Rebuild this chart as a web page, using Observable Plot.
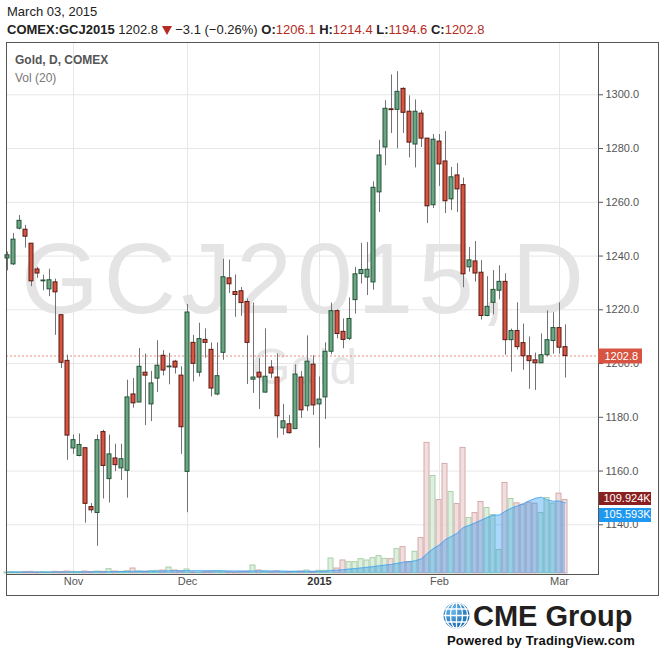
<!DOCTYPE html>
<html>
<head>
<meta charset="utf-8">
<script src="https://cdn.jsdelivr.net/npm/d3@7"></script>
<script src="https://cdn.jsdelivr.net/npm/@observablehq/plot@0.6"></script>
<style>
  html,body{margin:0;padding:0;background:#fff;}
  #wrap{position:relative;width:664px;height:652px;overflow:hidden;font-family:"Liberation Sans",Arial,Helvetica,sans-serif;}
  #wrap > svg{position:absolute;left:0;top:0;}
  .hdr{position:absolute;left:7px;font-size:13px;line-height:15px;color:#222;white-space:nowrap;}
  .red{color:#b52a21;}
  #box{position:absolute;left:6px;top:42px;width:651px;height:552px;border:1px solid #555;}
  .leg{position:absolute;left:15px;font-size:12px;line-height:15px;white-space:nowrap;}
</style>
</head>
<body>
<div id="wrap">
  <div id="box"></div>
</div>
<script>
// ---------- data ----------
const opens = [1239.1,1236.9,1250.2,1249.8,1244.6,1235.0,1230.6,1227.6,1230.2,1218.0,
1201.0,1168.4,1165.6,1168.5,1146.6,1144.4,1174.5,1157.0,1164.7,1161.0,
1160.1,1188.5,1185.5,1196.6,1184.8,1194.4,1202.9,1198.6,1200.7,1195.5,
1159.7,1207.7,1196.6,1208.8,1205.1,1188.5,1204.0,1231.7,1226.6,1226.9,
1222.9,1194.0,1196.6,1189.2,1198.5,1194.8,1175.9,1177.4,1175.6,1194.8,
1184.1,1199.6,1184.8,1187.4,1204.4,1219.5,1211.8,1209.2,1223.6,1233.3,
1232.0,1230.2,1263.7,1280.4,1294.6,1294.4,1302.2,1293.7,1281.5,1293.0,
1283.7,1258.9,1282.6,1275.2,1261.1,1270.0,1266.4,1235.8,1238.0,1233.8,
1217.7,1222.6,1227.1,1230.4,1208.7,1212.1,1207.6,1202.7,1201.2,1200.1,
1203.1,1208.4,1213.2,1206.1];
const highs = [1241.5,1248.4,1255.1,1251.4,1244.6,1235.8,1232.9,1235.1,1231.4,1218.0,
1203.1,1173.4,1173.8,1168.5,1147.9,1173.4,1175.2,1173.4,1170.0,1170.0,
1193.8,1194.4,1205.6,1203.5,1197.1,1208.5,1204.8,1203.8,1201.2,1198.8,
1222.0,1210.5,1215.0,1212.9,1207.7,1207.7,1238.8,1238.5,1233.0,1228.3,
1224.0,1222.5,1201.8,1212.9,1201.1,1203.6,1184.8,1180.7,1199.5,1197.0,
1210.3,1202.9,1195.0,1207.7,1222.5,1220.0,1216.6,1224.4,1235.8,1244.7,
1245.0,1267.6,1283.1,1297.8,1307.4,1308.6,1302.6,1299.6,1298.1,1294.1,
1283.7,1285.2,1285.2,1286.3,1273.0,1274.4,1269.0,1243.2,1245.4,1238.3,
1232.3,1234.6,1236.4,1233.4,1212.8,1222.6,1214.7,1209.9,1203.9,1211.0,
1219.6,1218.9,1222.6,1214.4];
const lows = [1234.5,1236.5,1249.7,1243.0,1228.6,1231.7,1227.1,1224.9,1210.5,1198.2,
1164.0,1166.2,1165.3,1140.6,1144.3,1132.0,1149.6,1148.1,1159.8,1156.5,
1149.9,1183.4,1185.5,1176.9,1178.4,1189.2,1195.4,1192.1,1196.1,1166.2,
1144.5,1193.2,1195.0,1202.0,1187.6,1188.0,1201.2,1226.1,1217.2,1217.6,
1192.2,1188.9,1182.9,1188.9,1194.4,1172.2,1173.3,1173.7,1175.6,1179.6,
1182.2,1180.7,1168.5,1179.2,1203.3,1209.2,1205.5,1208.5,1218.4,1229.6,
1225.3,1227.3,1256.2,1273.6,1285.6,1279.9,1285.6,1276.5,1272.8,1280.4,
1252.1,1257.7,1265.9,1255.8,1256.9,1256.2,1228.2,1234.0,1230.3,1216.2,
1217.4,1218.1,1223.7,1203.1,1196.8,1205.0,1197.5,1190.4,1190.0,1200.0,
1202.5,1203.5,1203.5,1194.6];
const closes = [1240.3,1246.1,1253.1,1247.2,1230.6,1233.5,1230.9,1231.0,1226.5,1200.3,
1173.2,1171.5,1169.7,1147.8,1145.4,1171.5,1161.9,1166.2,1162.2,1164.4,
1187.4,1185.2,1198.8,1195.5,1192.6,1199.2,1197.4,1198.9,1198.5,1176.3,
1219.0,1199.9,1209.1,1207.7,1190.7,1195.3,1232.1,1229.5,1225.5,1222.5,
1207.7,1194.8,1194.8,1195.1,1196.3,1180.4,1178.5,1174.1,1195.9,1182.6,
1200.7,1184.4,1186.6,1204.4,1219.5,1211.0,1208.8,1216.6,1233.2,1234.8,
1234.9,1265.4,1277.4,1294.8,1294.3,1301.1,1293.3,1282.2,1293.7,1283.7,
1258.5,1283.3,1274.1,1260.4,1269.3,1264.8,1233.2,1238.4,1233.5,1217.7,
1221.1,1227.4,1230.4,1208.7,1212.1,1206.1,1202.7,1200.9,1200.1,1203.1,
1208.7,1213.2,1205.9,1202.8];
// volume in thousands of contracts
const volumes = [1.5,2,1.5,2,2.5,1.5,2,1.5,2.5,2,
3,2.5,2,3,2,3,2.5,6.5,3,2.5,
3.5,7.5,3,2.5,3.5,4,4.5,9,4.5,3,
6,1.5,1,2,2.5,3,3,2,1.5,2,
2.5,12,4.5,3,2,3,1.5,2,2.5,3,
4.5,2,4,4,22.5,7.5,19.5,17,17,21.5,
19.5,23,26,22,21.5,36.5,39.5,17,32.5,53,
195.5,146,110,164,122,104,188,83,90.5,107,
98,87.5,35,135.5,111.5,105,103,106,104.5,90.5,
113,104.5,119.5,109.924];
// Vol (20) moving-average line
const volMA = [2.1,2.1,2.1,2.1,2.1,2.1,2.1,2.1,2.2,2.2,
2.2,2.3,2.3,2.4,2.4,2.5,2.5,2.7,2.8,2.8,
2.9,3.2,3.3,3.3,3.4,3.5,3.6,4.0,4.1,4.1,
4.3,4.2,4.2,4.1,4.1,4.1,3.9,3.9,3.7,3.7,
3.6,3.8,3.9,3.9,3.8,3.7,3.6,3.2,3.2,3.2,
3.3,3.3,3.3,3.3,4.6,4.9,5.8,6.6,7.4,8.4,
9.3,10.3,11.5,12.6,13.6,15.2,17.0,17.7,19.2,21.8,
30.1,37.3,42.6,50.6,55.5,60.4,68.8,72.1,75.8,80.0,
84.0,87.2,87.6,93.3,97.8,101.2,104.4,108.9,112.5,114.3,
110.2,108.1,108.6,105.593];
const monthTicks = [12, 31, 53, 73, 93];
const monthLabels = ["Nov", "Dec", "2015", "Feb", "Mar"];
const monthBold = [false, false, true, false, false];
const priceTicks = [1140, 1160, 1180, 1200, 1220, 1240, 1260, 1280, 1300];
const watermark = ["GCJ2015,D"];
const watermarkSub = ["Gold"];

// ---------- build ----------
const candles = opens.map((o, k) => ({
  i: k + 1, open: o, high: highs[k], low: lows[k], close: closes[k],
  vol: volumes[k], ma: volMA[k], up: closes[k] >= o
}));
const last = candles[candles.length - 1];
const xLabels = monthTicks.map((t, k) => ({i: t, label: monthLabels[k], bold: monthBold[k]}));

const X_DOMAIN = [5 / 6, 99.5];
const xScale = {domain: X_DOMAIN, range: [6, 598], axis: null};
const yPrice = {domain: [1121.51, 1319.46], range: [574, 42], axis: null};
const yVol = {domain: [0, 200], range: [573, 573 - 133.6], axis: null};
const common = {
  width: 664, height: 652,
  marginLeft: 6, marginRight: 66, marginTop: 42, marginBottom: 78,
  style: {background: "transparent", fontFamily: "'Liberation Sans', Arial, sans-serif", fontSize: "11px", overflow: "visible"}
};
const UP = "#6ba583", DOWN = "#d75442", UP_B = "#225437", DOWN_B = "#5b1a13";
const VUP_F = "#d9ecd9", VUP_S = "#a9d0a9", VDN_F = "#eed9d9", VDN_S = "#d6aaaa";
const xEnd = () => X_DOMAIN[1];

// layer 1: grid, watermark, axes
const layer1 = Plot.plot({
  ...common, x: xScale, y: yPrice,
  marks: [
    Plot.ruleY(priceTicks, {stroke: "#e6e6e6"}),
    Plot.ruleX(monthTicks, {stroke: "#e6e6e6"}),
    Plot.text(watermark, {text: d => d, frameAnchor: "middle", dy: -28, fontSize: 100, fill: "#e4e4e4"}),
    Plot.text(watermarkSub, {text: d => d, frameAnchor: "middle", dx: 2, dy: 59, fontSize: 50, fill: "#e6e6e6"}),
    Plot.axisY(priceTicks, {anchor: "right", tickSize: 4, tickPadding: 3, tickFormat: d => d.toFixed(1), color: "#555", fontSize: 11, label: null}),
    Plot.text(xLabels.filter(d => !d.bold), {x: "i", text: "label", frameAnchor: "bottom", dy: 10, fill: "#555", fontSize: 11}),
    Plot.text(xLabels.filter(d => d.bold), {x: "i", text: "label", frameAnchor: "bottom", dy: 10, fill: "#333", fontSize: 11, fontWeight: "bold"})
  ]
});

// layer 2: volume bars + Vol(20) average + value tags
const layer2 = Plot.plot({
  ...common, x: xScale, y: yVol,
  marks: [
    Plot.rect(candles, {
      x1: d => d.i - 0.5, x2: d => d.i + 0.5 - 1 / 6, y1: () => 0, y2: "vol",
      fill: d => d.up ? VUP_F : VDN_F, fillOpacity: 0.85,
      stroke: d => d.up ? VUP_S : VDN_S
    }),
    Plot.areaY(candles, {x: "i", y1: () => 0, y2: "ma", fill: "#2196f3", fillOpacity: 0.38}),
    Plot.lineY(candles, {x: "i", y: "ma", stroke: "#2196f3", strokeOpacity: 0.55, strokeWidth: 1}),
    Plot.ruleY([last.vol], {y: d => d, x1: xEnd, x2: () => X_DOMAIN[1] + 53 / 6, stroke: "#8b1f1f", strokeWidth: 13, dy: -1.5}),
    Plot.text([last.vol], {y: d => d, x: xEnd, text: d => d.toFixed(3) + "K", textAnchor: "start", dx: 5, dy: -1.5, fill: "white", fontSize: 11}),
    Plot.ruleY([last.ma], {y: d => d, x1: xEnd, x2: () => X_DOMAIN[1] + 53 / 6, stroke: "#1e98f0", strokeWidth: 14, dy: 12}),
    Plot.text([last.ma], {y: d => d, x: xEnd, text: d => d.toFixed(3) + "K", textAnchor: "start", dx: 5, dy: 12, fill: "white", fontSize: 11})
  ]
});

// layer 3: candles, last price line, frame, price tag
const layer3 = Plot.plot({
  ...common, x: xScale, y: yPrice,
  marks: [
    Plot.ruleY([last.close], {stroke: "#e28b80", strokeDasharray: "2,2"}),
    Plot.ruleX(candles, {x: "i", y1: "low", y2: "high", stroke: "#737375"}),
    Plot.rect(candles, {
      x1: d => d.i - 1 / 3, x2: d => d.i + 1 / 3, y1: "open", y2: "close",
      fill: d => d.up ? UP : DOWN, stroke: d => d.up ? UP_B : DOWN_B
    }),
    Plot.frame({stroke: "#555"}),
    Plot.ruleY([last.close], {y: d => d, x1: xEnd, x2: () => X_DOMAIN[1] + 44 / 6, stroke: "#d75442", strokeWidth: 15}),
    Plot.text([last.close], {y: d => d, x: xEnd, text: d => d.toFixed(1), textAnchor: "start", dx: 6, fill: "white", fontSize: 11})
  ]
});

const wrap = document.getElementById("wrap");
[layer1, layer2, layer3].forEach(s => wrap.appendChild(s));

// stretch watermark letter spacing to the reference width
d3.select(layer1).selectAll("text").filter(function () { return this.textContent === watermark[0]; })
  .attr("textLength", 563).attr("lengthAdjust", "spacing");

// header and legend text
const hdr = document.createElement("div");
hdr.innerHTML = `
  <div class="hdr" style="top:4px">March 03, 2015</div>
  <div class="hdr" style="top:22px"><b>COMEX:GCJ2015</b> ${last.close.toFixed(1)} <svg width="10" height="10" style="vertical-align:-1px"><polygon points="0,1 10,1 5,10" fill="#b52a21"/></svg> −3.1 (−0.26%) <b>O:</b><span class="red">${last.open.toFixed(1)}</span> <b>H:</b><span class="red">${last.high.toFixed(1)}</span> <b>L:</b><span class="red">${last.low.toFixed(1)}</span> <b>C:</b><span class="red">${last.close.toFixed(1)}</span></div>
  <div class="leg" style="top:53px;font-weight:bold;color:#555">Gold, D, COMEX</div>
  <div class="leg" style="top:71px;color:#777">Vol (20)</div>`;
while (hdr.firstChild) wrap.appendChild(hdr.firstChild);

// CME Group logo
const logo = document.createElementNS("http://www.w3.org/2000/svg", "svg");
logo.setAttribute("width", 664); logo.setAttribute("height", 652);
logo.style.pointerEvents = "none";
logo.innerHTML = `
  <defs>
    <radialGradient id="gl" cx="0.35" cy="0.3" r="0.8">
      <stop offset="0" stop-color="#6cb8ec"/><stop offset="1" stop-color="#0a5ea8"/>
    </radialGradient>
    <clipPath id="gc"><circle cx="456.5" cy="615.5" r="13"/></clipPath>
  </defs>
  <circle cx="456.5" cy="615.5" r="13" fill="url(#gl)"/>
  <g clip-path="url(#gc)" stroke="#fff" stroke-width="1.3" fill="none">
    <line x1="456.5" y1="600" x2="456.5" y2="631"/>
    <ellipse cx="456.5" cy="615.5" rx="6" ry="13"/>
    <ellipse cx="456.5" cy="615.5" rx="11" ry="13"/>
    <line x1="442" y1="609" x2="471" y2="609"/>
    <line x1="442" y1="615.5" x2="471" y2="615.5"/>
    <line x1="442" y1="622" x2="471" y2="622"/>
  </g>
  <text x="473" y="626" font-family="Liberation Sans, Arial, sans-serif" font-size="29" font-weight="bold" fill="#231f20">CME Group</text>
  <text x="447" y="645" font-family="Liberation Sans, Arial, sans-serif" font-size="13" font-weight="bold" fill="#111" letter-spacing="0.2">Powered by TradingView.com</text>`;
wrap.appendChild(logo);
</script>
</body>
</html>
